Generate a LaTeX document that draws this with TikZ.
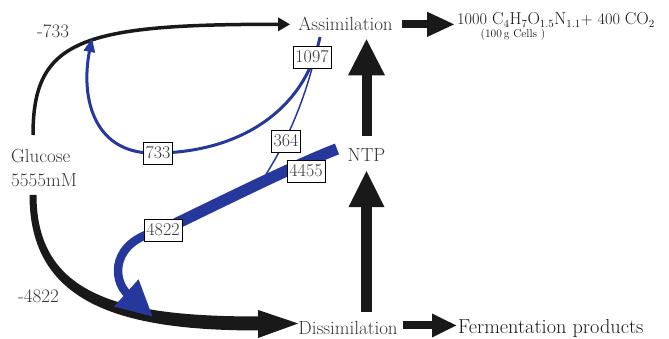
\documentclass[tikz,border=0pt]{standalone}
\usetikzlibrary{arrows.meta,calc}
\definecolor{flowblue}{RGB}{38,56,156}
\definecolor{txtgray}{RGB}{55,55,55}
\definecolor{flowblack}{RGB}{25,25,25}
\begin{document}
\begin{tikzpicture}[x=1pt,y=-1pt,
  lbl/.style={inner sep=0pt, text=txtgray, font=\fontsize{19}{24}\selectfont},
  numbox/.style={draw=black, line width=0.8pt, fill=white, inner xsep=2.5pt, inner ysep=0pt,
     minimum height=22pt, text=txtgray, font=\fontsize{18}{20}\selectfont},
  blk/.style={draw=flowblack, line cap=butt},
  bl/.style={draw=flowblue, line cap=butt}
]
\useasboundingbox (0,0) rectangle (669,339);

% text nodes
\node[lbl, anchor=base] (assim) at (345.5,31) {Assimilation};
\node[lbl, anchor=base] (ntp) at (366.5,162) {NTP};
\node[lbl, anchor=base] (dis) at (348,334) {Dissimilation};
\node[lbl, align=left, anchor=west] (glu) at (11,168) {Glucose\\5555mM};
\node[inner sep=0pt, anchor=base west, text=flowblack, font=\fontsize{20.3}{24}\selectfont] (ferm) at (458,333) {Fermentation products};
\node[inner sep=0pt, anchor=base west, text=flowblack, font=\fontsize{16.3}{18}\selectfont] (form) at (457,25)
  {1000 $\mathrm{C_4H_7O_{1.5}N_{1.1}}$+ 400 $\mathrm{CO_2}$};
\node[inner sep=0pt, anchor=base, text=flowblack, font=\fontsize{11.5}{13}\selectfont] (cells) at (513,38) {(100\,g Cells )};
\node[lbl, anchor=base west] (l733) at (37,38) {-733};
\node[lbl, anchor=base west] (l4822) at (18,302) {-4822};

% free ends
\coordinate (gluN) at (33,135);
\coordinate (gluS) at (33,195);
\coordinate (loopstart) at (320,37);
\coordinate (loopend) at (92,38);
\coordinate (merge) at (257,188);
\coordinate (tbstart) at (337,149);
\coordinate (tbend) at (153,317);

% black flow glucose -> assimilation
\draw[blk, line width=3.5pt, -{Triangle[length=12pt,width=13pt]}, shorten >=8pt]
  (gluN) .. controls (33,40) and (80,24) .. (assim.west);

% black tapered flow glucose -> dissimilation
\coordinate (hb) at ($([yshift=4pt]dis.west)+(-40,0)$);
\fill[flowblack]
  ($(gluS)+(-3.5,0)$) .. controls ($(gluS)+(-3.5,108)$) and ($(hb)+(-139,7)$) .. ($(hb)+(0,7)$)
  -- ($(hb)+(0,-7)$) .. controls ($(hb)+(-135,-7)$) and ($(gluS)+(3.5,102)$) .. ($(gluS)+(3.5,0)$) -- cycle;
\fill[flowblack] ($(hb)+(0,-13.5)$) -- ([yshift=4pt]dis.west) -- ($(hb)+(0,14.5)$) -- cycle;

% thick vertical / horizontal arrows
\draw[blk, line width=10pt, -{Triangle[length=37pt,width=34pt]}, shorten <=13pt, shorten >=7pt]
  (ntp.north) -- (ntp.north |- assim.south);
\draw[blk, line width=11pt, -{Triangle[length=37pt,width=33pt]}, shorten <=9pt, shorten >=8pt]
  (ntp.south |- dis.north) -- (ntp.south);
\draw[blk, line width=8pt, -{Triangle[length=28pt,width=23pt]}, shorten <=9pt, shorten >=2pt]
  (assim.east) -- (assim.east -| form.west);
\draw[blk, line width=8pt, -{Triangle[length=25pt,width=22pt]}, shorten <=5pt, shorten >=1pt]
  ([yshift=2pt]dis.east) -- ([yshift=2pt]dis.east -| ferm.west);

% blue flows
\node[numbox] (b733) at (158,153) {733};
\node[numbox] (b1097) at (312,57) {1097};
\node[numbox] (b4822) at (163,230) {4822};
\draw[bl, line width=3pt, -{Triangle[length=14pt,width=11pt]}]
  (loopstart) .. controls (305,110) and (240,152) .. (b733.center)
  .. controls (95,156) and (80,100) .. (loopend);
\draw[bl, line width=1.5pt]
  (b1097.south) .. controls (300,112) and (282,152) .. (merge);
\draw[bl, line width=11.5pt]
  (tbstart) .. controls (295,165) and (215,205) .. (b4822.center);
\draw[bl, line width=8.5pt, -{Triangle[length=36pt,width=34pt]}]
  (b4822.center) .. controls (110,240) and (112,280) .. (tbend);

% boxes on top
\node[numbox] at (b733) {733};
\node[numbox] at (b1097) {1097};
\node[numbox] at (b4822) {4822};
\node[numbox] (b364) at (286,141) {364};
\node[numbox] (b4455) at (306,171) {4455};
\end{tikzpicture}
\end{document}
